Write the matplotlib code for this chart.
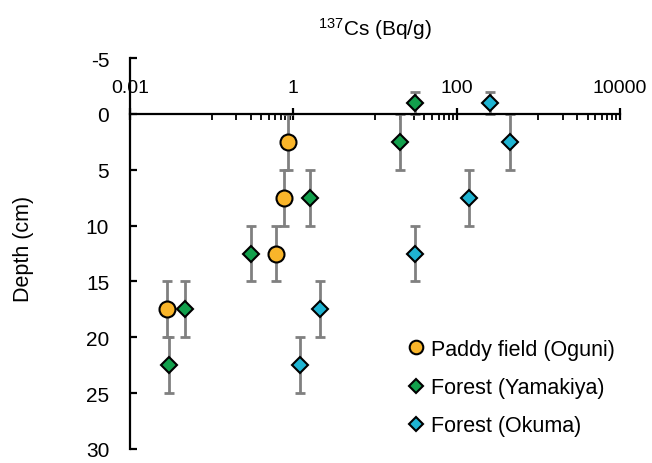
import matplotlib
matplotlib.use("Agg")
import matplotlib.pyplot as plt
from matplotlib.ticker import FixedLocator, FixedFormatter, NullFormatter

plt.rcParams['font.family'] = ['Liberation Sans', 'DejaVu Sans']
plt.rcParams['mathtext.default'] = 'regular'

# data
paddy_cs = [0.86, 0.77, 0.62, 0.028]
paddy_depth = [2.5, 7.5, 12.5, 17.5]
paddy_err = [2.5, 2.5, 2.5, 2.5]

yamakiya_cs = [31, 20, 1.6, 0.30, 0.047, 0.030]
yamakiya_depth = [-1, 2.5, 7.5, 12.5, 17.5, 22.5]
yamakiya_err = [1, 2.5, 2.5, 2.5, 2.5, 2.5]

okuma_cs = [255, 450, 142, 31, 2.1, 1.2]
okuma_depth = [-1, 2.5, 7.5, 12.5, 17.5, 22.5]
okuma_err = [1, 2.5, 2.5, 2.5, 2.5, 2.5]

x_ticks = [0.01, 1, 100, 10000]
x_tick_labels = ["0.01", "1", "100", "10000"]
y_ticks = [-5, 0, 5, 10, 15, 20, 25, 30]
y_tick_labels = ["-5", "0", "5", "10", "15", "20", "25", "30"]

fig = plt.figure(figsize=(6.52, 4.64), dpi=100)
ax = fig.add_axes([130/652, 1-450/464, 490/652, 391/464])

err_kw = dict(fmt='none', ecolor='#808080', elinewidth=2, capsize=3.4, capthick=2, zorder=2)
ax.errorbar(paddy_cs, paddy_depth, yerr=paddy_err, **err_kw)
ax.errorbar(yamakiya_cs, yamakiya_depth, yerr=yamakiya_err, **err_kw)
ax.errorbar(okuma_cs, okuma_depth, yerr=okuma_err, **err_kw)

h1, = ax.plot(paddy_cs, paddy_depth, 'o', ms=11.5, mfc='#F9B52A', mec='black', mew=1.5,
              ls='none', zorder=3, label='Paddy field (Oguni)')
h2, = ax.plot(yamakiya_cs, yamakiya_depth, 'D', ms=8, mfc='#12A04C', mec='black', mew=1.5,
              ls='none', zorder=3, label='Forest (Yamakiya)')
h3, = ax.plot(okuma_cs, okuma_depth, 'D', ms=8, mfc='#1FB4D2', mec='black', mew=1.5,
              ls='none', zorder=3, label='Forest (Okuma)')

ax.set_xscale('log')
ax.set_xlim(0.01, 10000)
ax.set_ylim(30, -5)

ax.spines['right'].set_visible(False)
ax.spines['bottom'].set_visible(False)
ax.spines['top'].set_position(('data', 0))
ax.spines['top'].set_linewidth(1.6)
ax.spines['left'].set_linewidth(1.6)

ax.xaxis.tick_top()
ax.xaxis.set_major_locator(FixedLocator(x_ticks))
ax.xaxis.set_major_formatter(FixedFormatter(x_tick_labels))
minor = [k * 10.0 ** e for e in (-1, 1, 3) for k in range(1, 10)]
ax.xaxis.set_minor_locator(FixedLocator(minor))
ax.xaxis.set_minor_formatter(NullFormatter())
ax.tick_params(axis='x', which='major', direction='inout', length=8, width=1.6,
               labelsize=14, pad=9, colors='black')
ax.tick_params(axis='x', which='minor', direction='in', length=4, width=1.3)

ax.set_yticks(y_ticks)
ax.set_yticklabels(y_tick_labels)
ax.tick_params(axis='y', direction='in', length=5, width=1.6, labelsize=15, pad=15,
               colors='black')

fig.text(375/652, 1-29/464, r'$^{137}$Cs (Bq/g)', ha='center', va='center', fontsize=15)
fig.text(23/652, 1-249/464, 'Depth (cm)', rotation=90, ha='center', va='center', fontsize=15.5)

ax.legend(handles=[h1, h2, h3], loc='upper left', bbox_to_anchor=(407/652, 1-340/464),
          bbox_transform=fig.transFigure, frameon=False, fontsize=15.5, markerscale=0.85,
          handlelength=0.8, handletextpad=0.3, labelspacing=0.8, borderpad=0,
          borderaxespad=0)

fig.savefig('out.png', dpi=100)
